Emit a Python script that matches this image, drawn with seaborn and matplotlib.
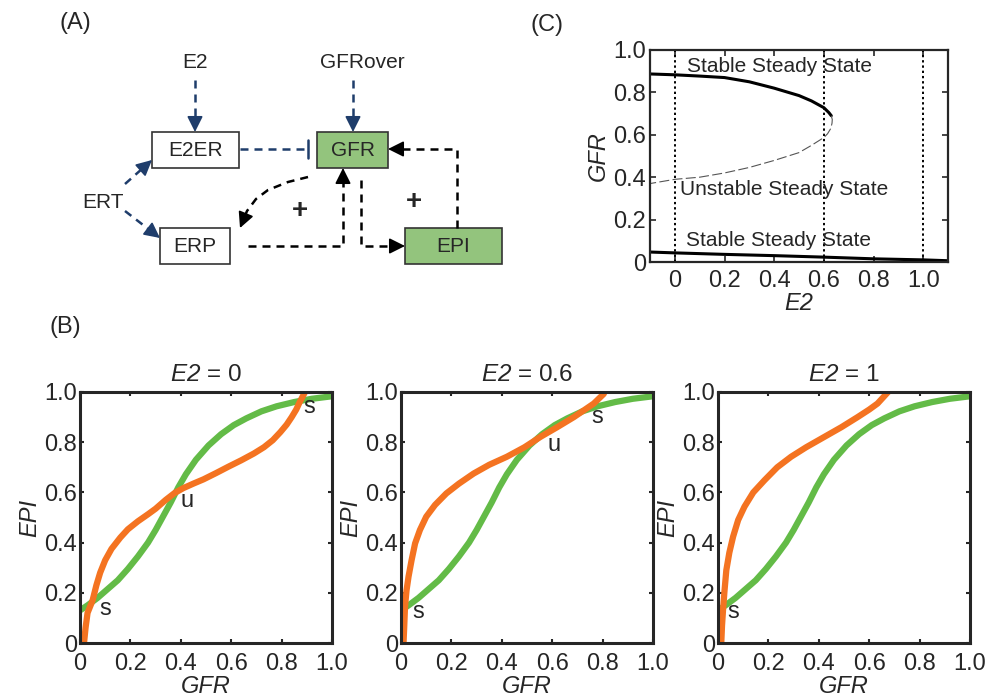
import math
import matplotlib
matplotlib.use("Agg")
import matplotlib.pyplot as plt
from matplotlib.patches import Rectangle
import seaborn as sns

sns.set_theme(style="ticks")
plt.rcParams["font.family"] = ["Liberation Sans", "DejaVu Sans"]
# math parts are only used for the italic "E2" in the titles
plt.rcParams["mathtext.fontset"] = "custom"
plt.rcParams["mathtext.rm"] = "Liberation Sans:italic"
plt.rcParams["mathtext.it"] = "Liberation Sans:italic"

ORANGE = "#f47321"
GREEN = "#63bb47"
NAVY = "#1f3d6b"
BOXGREEN = "#93c47d"

# ---- panel B: nullclines (GFR, EPI)
green_gfr = [0.0, 0.03, 0.07, 0.11, 0.15, 0.19, 0.23, 0.27, 0.30, 0.33, 0.36, 0.39,
             0.42, 0.46, 0.51, 0.56, 0.61, 0.66, 0.72, 0.78, 0.85, 0.92, 1.0]
green_epi = [0.13, 0.15, 0.18, 0.215, 0.25, 0.295, 0.345, 0.40, 0.45, 0.505, 0.56, 0.62,
             0.672, 0.73, 0.787, 0.832, 0.868, 0.895, 0.923, 0.943, 0.96, 0.973, 0.983]

orange_gfr_0 = [0.016, 0.022, 0.03, 0.05, 0.065, 0.08, 0.10, 0.125, 0.16, 0.19, 0.23, 0.27,
                0.30, 0.34, 0.376, 0.41, 0.45, 0.49, 0.54, 0.59, 0.64, 0.69, 0.73,
                0.765, 0.795, 0.82, 0.84, 0.858, 0.872, 0.893]
orange_epi_0 = [0.0, 0.06, 0.12, 0.17, 0.23, 0.28, 0.33, 0.375, 0.42, 0.453, 0.485, 0.513,
                0.535, 0.57, 0.598, 0.617, 0.635, 0.652, 0.677, 0.703, 0.728, 0.755, 0.78,
                0.808, 0.84, 0.87, 0.9, 0.93, 0.96, 1.0]

orange_gfr_06 = [0.01, 0.013, 0.016, 0.022, 0.03, 0.042, 0.056, 0.075, 0.10, 0.135, 0.18,
                 0.23, 0.288, 0.35, 0.42, 0.49, 0.553, 0.62, 0.686, 0.73, 0.765, 0.805]
orange_epi_06 = [0.0, 0.07, 0.146, 0.21, 0.265, 0.33, 0.397, 0.45, 0.503, 0.55, 0.596,
                 0.635, 0.675, 0.71, 0.742, 0.78, 0.821, 0.86, 0.9, 0.93, 0.954, 0.993]

orange_gfr_1 = [0.013, 0.016, 0.02, 0.026, 0.033, 0.045, 0.06, 0.08, 0.105, 0.14, 0.185,
                0.235, 0.29, 0.35, 0.42, 0.49, 0.554, 0.60, 0.633, 0.675]
orange_epi_1 = [0.0, 0.07, 0.132, 0.21, 0.29, 0.36, 0.424, 0.49, 0.543, 0.60, 0.649,
                0.70, 0.742, 0.78, 0.82, 0.86, 0.90, 0.93, 0.954, 1.0]

e2_values = ["0", "0.6", "1"]
orange_sets = [(orange_gfr_0, orange_epi_0), (orange_gfr_06, orange_epi_06),
               (orange_gfr_1, orange_epi_1)]
fixed_points = [
    [("s", 0.10, 0.135), ("u", 0.425, 0.565), ("s", 0.91, 0.94)],
    [("s", 0.07, 0.125), ("u", 0.606, 0.79), ("s", 0.78, 0.90)],
    [("s", 0.06, 0.125)],
]
b_ticks = [0, 0.2, 0.4, 0.6, 0.8, 1.0]
b_ticklabels = ["0", "0.2", "0.4", "0.6", "0.8", "1.0"]

# ---- panel C: bifurcation diagram
upper_e2 = [-0.1, 0.0, 0.1, 0.2, 0.3, 0.4, 0.5, 0.55, 0.6, 0.62, 0.63]
upper_gfr = [0.887, 0.883, 0.877, 0.87, 0.85, 0.82, 0.785, 0.76, 0.728, 0.705, 0.69]
unstable_e2 = [0.63, 0.634, 0.633, 0.628, 0.615, 0.6, 0.55, 0.5, 0.4, 0.3, 0.2, 0.1, 0.0, -0.1]
unstable_gfr = [0.69, 0.672, 0.655, 0.63, 0.605, 0.587, 0.55, 0.516, 0.479, 0.446, 0.42,
                0.40, 0.39, 0.37]
lower_e2 = [-0.1, 0.0, 0.2, 0.4, 0.6, 0.8, 1.0, 1.1]
lower_gfr = [0.047, 0.043, 0.036, 0.03, 0.023, 0.015, 0.01, 0.006]
marked_e2 = [0, 0.6, 1.0]

# ---- panel A: network diagram (pixel layout)
boxes = {
    "E2ER": (152, 132, 87, 36, "white"),
    "GFR": (317, 132, 71, 36, BOXGREEN),
    "ERP": (160, 228, 70, 36, "white"),
    "EPI": (405, 228, 97, 36, BOXGREEN),
}
links = [
    ([(195, 80), (195, 132)], NAVY, "arrow"),
    ([(353, 80), (353, 132)], NAVY, "arrow"),
    ([(240, 149), (308, 149)], NAVY, "bar"),
    ([(125, 184), (152, 160)], NAVY, "arrow"),
    ([(125, 211), (160, 238)], NAVY, "arrow"),
    ([(308, 177), (288, 182), (268, 190), (256, 199), (247, 211), (240, 228)], "black", "arrow"),
    ([(248, 246), (343, 246), (343, 168)], "black", "arrow"),
    ([(361, 180), (361, 246), (405, 246)], "black", "arrow"),
    ([(457, 228), (457, 149), (388, 149)], "black", "arrow"),
]
labels_a = [("E2", 195, 62), ("GFRover", 362, 62), ("ERT", 103, 202),
            ("+", 300, 211), ("+", 414, 202)]


def draw_link(ax, pts, color, end):
    (x1, y1), (x2, y2) = pts[-2], pts[-1]
    d = math.hypot(x2 - x1, y2 - y1)
    ux, uy = (x2 - x1) / d, (y2 - y1) / d
    if end == "arrow":
        bx, by = x2 - 11 * ux, y2 - 11 * uy
    else:
        bx, by = x2, y2
    xs = [p[0] for p in pts[:-1]] + [bx]
    ys = [p[1] for p in pts[:-1]] + [by]
    ax.plot(xs, ys, ls=(0, (3.2, 2.4)), color=color, lw=1.8)
    if end == "arrow":
        ax.annotate("", xy=(x2, y2), xytext=(x2 - 13 * ux, y2 - 13 * uy),
                    arrowprops=dict(arrowstyle="-|>,head_length=0.8,head_width=0.4",
                                    color=color, lw=1.2, shrinkA=0, shrinkB=0))
    else:
        ax.plot([x2 - 9 * uy, x2 + 9 * uy], [y2 - 9 * ux, y2 + 9 * ux], color=color, lw=1.8)


fig = plt.figure(figsize=(9.93, 7), dpi=100)
W, H = 993, 700

# panel A
axA = fig.add_axes([0, 1 - 300 / H, 580 / W, 300 / H])
axA.set_xlim(0, 580)
axA.set_ylim(300, 0)
axA.axis("off")
for name, (x, y, w, h, fc) in boxes.items():
    axA.add_patch(Rectangle((x, y), w, h, facecolor=fc, edgecolor="#333333", lw=1.2))
    axA.text(x + w / 2, y + h / 2, name, ha="center", va="center", fontsize=15)
for pts, color, end in links:
    draw_link(axA, pts, color, end)
for txt, x, y in labels_a:
    axA.text(x, y, txt, ha="center", va="center",
             fontsize=20 if txt == "+" else 15,
             fontweight="bold" if txt == "+" else "normal")

# panel B
b_lefts = [80, 401, 718]
for i, left in enumerate(b_lefts):
    ax = fig.add_axes([left / W, (H - 643) / H, 252 / W, 251 / H])
    sns.lineplot(x=green_gfr, y=green_epi, sort=False, estimator=None, color=GREEN,
                 lw=4.5, ax=ax)
    og, oe = orange_sets[i]
    sns.lineplot(x=og, y=oe, sort=False, estimator=None, color=ORANGE, lw=4.5, ax=ax)
    for txt, x, y in fixed_points[i]:
        ax.text(x, y, txt, fontsize=17, ha="center", va="center")
    ax.set_xlim(0, 1)
    ax.set_ylim(0, 1)
    ax.set_xticks(b_ticks, b_ticklabels)
    ax.set_yticks(b_ticks, b_ticklabels)
    ax.tick_params(direction="in", length=3, width=1.5, top=True, right=True,
                   labelsize=17)
    ax.tick_params(axis="x", pad=7)
    ax.tick_params(axis="y", pad=2)
    for sp in ax.spines.values():
        sp.set_linewidth(2.2)
    ax.set_xlabel("GFR", fontsize=17, fontstyle="italic", labelpad=0)
    ax.set_ylabel("EPI", fontsize=17, fontstyle="italic", labelpad=2)
    ax.set_title(r"$E2$ = " + e2_values[i], fontsize=17.5, pad=8)

# panel C
axC = fig.add_axes([650 / W, (H - 262) / H, 298 / W, 212 / H])
sns.lineplot(x=upper_e2, y=upper_gfr, sort=False, estimator=None, color="black",
             lw=2.2, ax=axC)
sns.lineplot(x=unstable_e2, y=unstable_gfr, sort=False, estimator=None, color="#555555",
             lw=0.8, ls=(0, (9, 3)), ax=axC)
sns.lineplot(x=lower_e2, y=lower_gfr, sort=False, estimator=None, color="black",
             lw=2.2, ax=axC)
for xv in marked_e2:
    axC.axvline(xv, color="black", lw=1.4, ls=(0, (1.2, 1.5)))
axC.text(0.05, 0.92, "Stable Steady State", fontsize=15, va="center")
axC.text(0.02, 0.34, "Unstable Steady State", fontsize=15, va="center")
axC.text(0.045, 0.10, "Stable Steady State", fontsize=15, va="center")
axC.set_xlim(-0.1, 1.1)
axC.set_ylim(0, 1.0)
axC.set_xticks(b_ticks, b_ticklabels)
axC.set_yticks(b_ticks, b_ticklabels)
axC.tick_params(direction="in", length=4, width=1.2, top=True, right=True,
                labelsize=17)
axC.tick_params(axis="x", pad=6)
axC.tick_params(axis="y", pad=3)
for sp in axC.spines.values():
    sp.set_linewidth(1.6)
axC.set_xlabel("E2", fontsize=17, fontstyle="italic", labelpad=0)
axC.set_ylabel("GFR", fontsize=17, fontstyle="italic", labelpad=2)

fig.text(75 / W, 1 - 23 / H, "(A)", fontsize=17, ha="center", va="center")
fig.text(65 / W, 1 - 327 / H, "(B)", fontsize=17, ha="center", va="center")
fig.text(547 / W, 1 - 25 / H, "(C)", fontsize=17, ha="center", va="center")

fig.savefig("out.png", dpi=100)
